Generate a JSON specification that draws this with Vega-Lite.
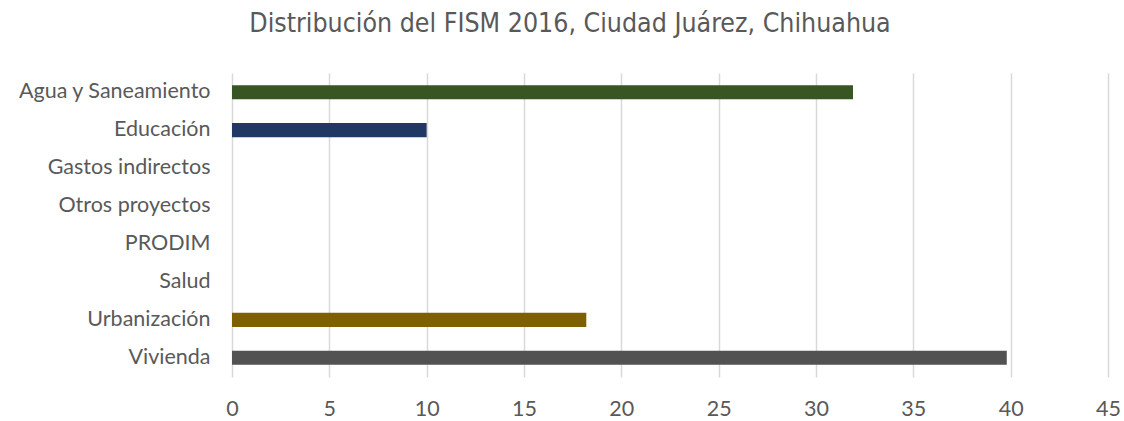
{
  "$schema": "https://vega.github.io/schema/vega-lite/v6.json",
  "width": 876,
  "height": 304,
  "autosize": {"type": "none"},
  "padding": {"left": 232, "top": 73, "right": 16, "bottom": 44},
  "background": "white",
  "title": {
    "text": "Distribución del FISM 2016, Ciudad Juárez, Chihuahua",
    "font": "DejaVu Sans Condensed, Liberation Sans",
    "fontSize": 26.5,
    "fontWeight": "normal",
    "color": "#595959",
    "anchor": "middle",
    "dx": -100,
    "offset": 36
  },
  "data": {
    "values": [
      {"rubro": "Agua y Saneamiento", "valor": 31.9},
      {"rubro": "Educación", "valor": 10.0},
      {"rubro": "Gastos indirectos", "valor": 0},
      {"rubro": "Otros proyectos", "valor": 0},
      {"rubro": "PRODIM", "valor": 0},
      {"rubro": "Salud", "valor": 0},
      {"rubro": "Urbanización", "valor": 18.2},
      {"rubro": "Vivienda", "valor": 39.8}
    ]
  },
  "mark": {"type": "bar"},
  "encoding": {
    "y": {
      "field": "rubro",
      "type": "nominal",
      "sort": null,
      "scale": {"paddingInner": 0.63, "paddingOuter": 0.32},
      "axis": {
        "title": null,
        "labelFont": "Lato",
        "labelFontSize": 21.5,
        "labelColor": "#595959",
        "labelPadding": 22,
        "labelLimit": 400,
        "ticks": false,
        "domain": false,
        "grid": false
      }
    },
    "x": {
      "field": "valor",
      "type": "quantitative",
      "scale": {"domain": [0, 45], "nice": false},
      "axis": {
        "title": null,
        "values": [0, 5, 10, 15, 20, 25, 30, 35, 40, 45],
        "labelFont": "Lato",
        "labelFontSize": 21.5,
        "labelColor": "#595959",
        "labelPadding": 21,
        "labelFlush": false,
        "ticks": false,
        "domain": false,
        "grid": true,
        "gridColor": "#d9d9d9",
        "gridWidth": 1.5
      }
    },
    "color": {
      "field": "rubro",
      "type": "nominal",
      "legend": null,
      "scale": {
        "domain": ["Agua y Saneamiento", "Educación", "Gastos indirectos", "Otros proyectos", "PRODIM", "Salud", "Urbanización", "Vivienda"],
        "range": ["#375623", "#203864", "#7f7f7f", "#7f7f7f", "#7f7f7f", "#7f7f7f", "#7f6000", "#525252"]
      }
    }
  },
  "config": {"view": {"stroke": null}}
}
